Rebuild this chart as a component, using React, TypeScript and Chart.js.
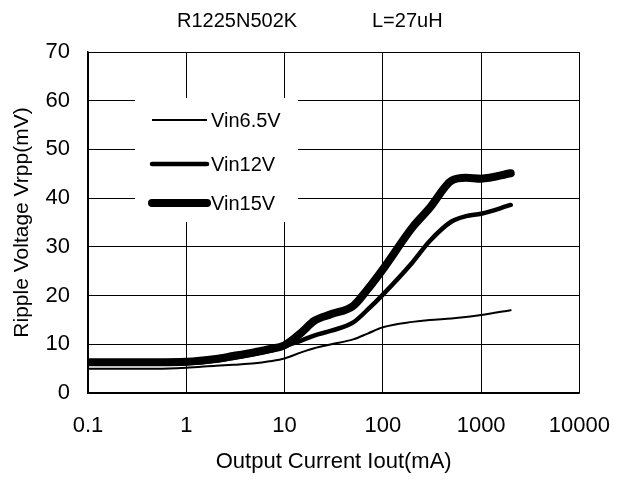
import React, { useEffect, useRef } from "react";
import { Chart, registerables } from "chart.js";
Chart.register(...registerables);

const currents = [0.1, 0.2, 0.5, 1, 2, 3, 5, 7, 10, 15, 20, 30, 50, 70, 100, 200, 300, 500, 700, 1000, 2000];
const vin65 = [5.0, 5.0, 5.0, 5.2, 5.6, 5.8, 6.1, 6.5, 7.1, 8.4, 9.2, 10.0, 11.0, 12.2, 13.5, 14.6, 15.0, 15.3, 15.6, 16.0, 17.0];
const vin12 = [6.0, 6.0, 6.0, 6.1, 6.6, 7.2, 8.0, 8.6, 9.6, 10.8, 11.8, 12.8, 14.5, 17.1, 20.2, 26.8, 31.2, 35.2, 36.3, 36.8, 38.6];
const vin15 = [6.3, 6.3, 6.3, 6.4, 7.0, 7.6, 8.4, 9.0, 9.8, 12.5, 14.8, 16.2, 17.9, 21.3, 25.4, 34.0, 38.0, 43.6, 44.2, 44.0, 45.1];
const seriesNames = ["Vin6.5V", "Vin12V", "Vin15V"];
const seriesWidths = [2, 4.5, 8];
const xTicks = [0.1, 1, 10, 100, 1000, 10000];
const xTickLabels = ["0.1", "1", "10", "100", "1000", "10000"];
const titleLeft = "R1225N502K";
const titleRight = "L=27uH";
const xTitle = "Output Current Iout(mA)";
const yTitle = "Ripple Voltage Vrpp(mV)";

const FONT = "'Liberation Sans', Arial, sans-serif";

const titlePlugin = {
  id: "twoPartTitle",
  afterDraw(chart: any) {
    const ctx = chart.ctx;
    ctx.save();
    ctx.fillStyle = "#000";
    ctx.font = `20px ${FONT}`;
    ctx.textBaseline = "alphabetic";
    ctx.textAlign = "left";
    ctx.fillText(titleLeft, 177, 27);
    ctx.fillText(titleRight, 372, 27);
    ctx.restore();
  },
};

const legendPlugin = {
  id: "insideLegend",
  beforeDatasetsDraw(chart: any) {
    const ctx = chart.ctx;
    ctx.save();
    ctx.fillStyle = "#fff";
    ctx.fillRect(135, 98, 163, 124);
    const rows = [120, 164, 203];
    seriesNames.forEach((name, i) => {
      ctx.strokeStyle = "#000";
      ctx.lineWidth = seriesWidths[i];
      ctx.lineCap = i === 0 ? "butt" : "round";
      ctx.beginPath();
      ctx.moveTo(i === 0 ? 152 : 152, rows[i]);
      ctx.lineTo(207, rows[i]);
      ctx.stroke();
      ctx.fillStyle = "#000";
      ctx.font = `20px ${FONT}`;
      ctx.textBaseline = "middle";
      ctx.textAlign = "left";
      ctx.fillText(name, 211, rows[i] + 1);
    });
    ctx.restore();
  },
};

export default function App() {
  const ref = useRef<HTMLCanvasElement | null>(null);
  useEffect(() => {
    document.body.style.margin = "0";
    const series = [vin65, vin12, vin15];
    const chart = new Chart(ref.current as HTMLCanvasElement, {
      type: "line",
      data: {
        datasets: series.map((vals, i) => ({
          label: seriesNames[i],
          data: currents.map((c, j) => ({ x: c, y: vals[j] })),
          borderColor: "#000",
          backgroundColor: "#000",
          borderWidth: seriesWidths[i],
          borderCapStyle: "round",
          borderJoinStyle: "round",
          pointRadius: 0,
          cubicInterpolationMode: "monotone",
          fill: false,
        })),
      },
      options: {
        responsive: false,
        animation: false,
        layout: { padding: { top: 52, right: 48, left: 0, bottom: 0 } },
        plugins: {
          legend: { display: false },
          title: { display: false },
          tooltip: { enabled: false },
        },
        scales: {
          x: {
            type: "logarithmic",
            min: 0.1,
            max: 10000,
            afterBuildTicks: (scale: any) => {
              scale.ticks = xTicks.map((v) => ({ value: v }));
            },
            afterFit: (scale: any) => {
              scale.height = 87;
            },
            ticks: {
              autoSkip: false,
              maxRotation: 0,
              padding: 20,
              color: "#000",
              font: { family: FONT, size: 22 },
              callback: (v: any) => {
                const idx = xTicks.findIndex((t) => Math.abs(t - Number(v)) < 1e-9 * Math.max(1, t));
                return idx >= 0 ? xTickLabels[idx] : "";
              },
            },
            grid: { color: "#000", lineWidth: 1, drawTicks: false },
            border: { color: "#000", width: 1.5 },
            title: {
              display: true,
              text: xTitle,
              color: "#000",
              font: { family: FONT, size: 22 },
              padding: { top: 0, bottom: 5 },
            },
          },
          y: {
            type: "linear",
            min: 0,
            max: 70,
            afterFit: (scale: any) => {
              scale.width = 88;
            },
            ticks: {
              stepSize: 10,
              padding: 18,
              color: "#000",
              font: { family: FONT, size: 22 },
            },
            grid: { color: "#000", lineWidth: 1, drawTicks: false },
            border: { color: "#000", width: 1.5 },
            title: {
              display: true,
              text: yTitle,
              color: "#000",
              font: { family: FONT, size: 21 },
              padding: { top: 10, bottom: 0 },
            },
          },
        },
      },
      plugins: [titlePlugin, legendPlugin],
    } as any);
    return () => chart.destroy();
  }, []);
  return (
    <div style={{ width: 630, height: 480, background: "#fff" }}>
      <canvas ref={ref} width={630} height={480} />
    </div>
  );
}
